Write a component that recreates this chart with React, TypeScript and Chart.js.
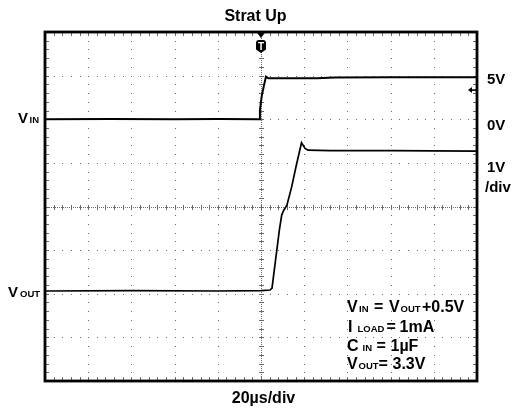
import { useEffect, useRef } from 'react';
import { Chart, registerables } from 'chart.js';

Chart.register(...registerables);

// Time base: 20 µs/div, trigger at t = 0 (screen centre)
const X_MIN = -100;
const X_MAX = 100;
const timeDivs = [-100, -80, -60, -40, -20, 0, 20, 40, 60, 80, 100];

// VOUT channel: 1 V/div
const VOUT_MIN = -2;
const VOUT_MAX = 6;
const voltDivs = [-2, -1, 0, 1, 2, 3, 4, 5, 6];

// VIN channel: 5 V/div
const VIN_MIN = -30;
const VIN_MAX = 10;

// VIN trace (µs, V)
const vinTime = [-100, -70, -40, -20, -0.9, -0.5, 0.3, 1.3, 2.3, 3.4, 10, 26, 34, 60, 100];
const vinVolts = [0, 0.02, 0, 0.02, 0, 1.0, 2.6, 3.8, 4.88, 4.7, 4.69, 4.7, 4.79, 4.81, 4.81];

// VOUT trace (µs, V)
const voutTime = [-100, -60, -20, 0, 4.2, 5.1, 6.5, 8.5, 9.6, 10.6, 12.0, 14.2, 16.2, 18.75, 20.4, 21.8, 32, 60, 100];
const voutVolts = [0.063, 0.07, 0.063, 0.07, 0.086, 0.13, 0.68, 1.46, 1.81, 1.92, 2.03, 2.45, 2.91, 3.46, 3.33, 3.29, 3.28, 3.28, 3.27];

const titleText = 'Strat Up';
const timeLabel = '20µs/div';

const FONT = '"Liberation Sans", Arial, Helvetica, sans-serif';

type Piece = [string, number, number]; // text, x, fontSize

function drawPieces(ctx: CanvasRenderingContext2D, baseline: number, pieces: Piece[]) {
  for (const [t, x, s] of pieces) {
    ctx.font = `bold ${s}px ${FONT}`;
    ctx.fillText(t, x, baseline);
  }
}

const scopePlugin = {
  id: 'scope',
  beforeDatasetsDraw(chart: any) {
    const { ctx, chartArea: a } = chart;
    const xs = chart.scales.x;
    const ys = chart.scales.yOut;
    ctx.save();
    ctx.fillStyle = '#6a6a6a';
    const nx = Math.round((X_MAX - X_MIN) / 4);
    const ny = Math.round((VOUT_MAX - VOUT_MIN) / 0.2);
    // dotted graticule lines
    for (const t of timeDivs) {
      const x = Math.round(xs.getPixelForValue(t));
      for (let k = 0; k <= ny; k++) {
        const y = Math.round(ys.getPixelForValue(VOUT_MIN + k * 0.2));
        ctx.fillRect(x, y, 1, 1);
      }
    }
    for (const v of voltDivs) {
      const y = Math.round(ys.getPixelForValue(v));
      for (let k = 0; k <= nx; k++) {
        const x = Math.round(xs.getPixelForValue(X_MIN + k * 4));
        ctx.fillRect(x, y, 1, 1);
      }
    }
    // centre lines
    const cx = Math.round(xs.getPixelForValue(0));
    const cy = Math.round(ys.getPixelForValue((VOUT_MIN + VOUT_MAX) / 2));
    for (let x = a.left; x < a.right; x += 2) ctx.fillRect(Math.round(x), cy, 1, 1);
    for (let y = a.top; y < a.bottom; y += 2) ctx.fillRect(cx, Math.round(y), 1, 1);
    for (let k = 0; k <= nx; k++) {
      const x = Math.round(xs.getPixelForValue(X_MIN + k * 4));
      ctx.fillRect(x, cy - 2, 1, 5);
      ctx.fillRect(x, Math.round(a.top), 1, 4);
      ctx.fillRect(x, Math.round(a.bottom) - 4, 1, 4);
    }
    for (let k = 0; k <= ny; k++) {
      const y = Math.round(ys.getPixelForValue(VOUT_MIN + k * 0.2));
      ctx.fillRect(cx - 2, y, 5, 1);
      ctx.fillRect(Math.round(a.left), y, 4, 1);
      ctx.fillRect(Math.round(a.right) - 4, y, 4, 1);
    }
    ctx.restore();
  },
  afterDraw(chart: any) {
    const { ctx, chartArea: a } = chart;
    const xs = chart.scales.x;
    const cx = xs.getPixelForValue(0);
    ctx.save();
    // frame
    ctx.strokeStyle = '#000';
    ctx.lineWidth = 2.8;
    ctx.strokeRect(a.left, a.top, a.right - a.left, a.bottom - a.top);
    // trigger position marker
    ctx.fillStyle = '#000';
    ctx.beginPath();
    ctx.moveTo(cx - 4.5, a.top);
    ctx.lineTo(cx + 4.5, a.top);
    ctx.lineTo(cx, a.top + 6);
    ctx.closePath();
    ctx.fill();
    // T badge
    const bt = a.top + 8;
    ctx.beginPath();
    ctx.moveTo(cx - 5, bt + 3);
    ctx.quadraticCurveTo(cx - 5, bt, cx - 2, bt);
    ctx.lineTo(cx + 2, bt);
    ctx.quadraticCurveTo(cx + 5, bt, cx + 5, bt + 3);
    ctx.lineTo(cx + 5, bt + 9.5);
    ctx.lineTo(cx, bt + 13);
    ctx.lineTo(cx - 5, bt + 9.5);
    ctx.closePath();
    ctx.fill();
    ctx.fillStyle = '#fff';
    ctx.font = `bold 10px ${FONT}`;
    ctx.textAlign = 'center';
    ctx.fillText('T', cx, bt + 10);
    // trigger level arrow
    ctx.fillStyle = '#000';
    ctx.beginPath();
    ctx.moveTo(468, 90);
    ctx.lineTo(472, 87);
    ctx.lineTo(472, 93);
    ctx.closePath();
    ctx.fill();
    ctx.fillRect(471, 89.3, 5, 1.6);

    // texts
    ctx.fillStyle = '#000';
    ctx.textAlign = 'center';
    ctx.font = `bold 16px ${FONT}`;
    ctx.fillText(titleText, 255.5, 20.5);
    ctx.fillText(timeLabel, 263.5, 402.5);

    ctx.textAlign = 'left';
    // right side
    drawPieces(ctx, 84, [['5V', 487, 15]]);
    drawPieces(ctx, 130, [['0V', 487, 15]]);
    drawPieces(ctx, 172, [['1V', 487, 15]]);
    drawPieces(ctx, 192, [['/div', 485, 15]]);
    // left side
    drawPieces(ctx, 122.5, [['V', 18, 15], ['IN', 29.5, 9.5]]);
    drawPieces(ctx, 296.5, [['V', 8, 15], ['OUT', 20, 9.5]]);
    // conditions
    drawPieces(ctx, 312, [['V', 347, 16], ['IN', 359, 9.5], ['=', 374, 16], ['V', 389, 16], ['OUT', 400.5, 9.5], ['+0.5V', 422, 16]]);
    drawPieces(ctx, 331.5, [['I', 348, 16], ['LOAD', 357.5, 9.5], ['=', 386.5, 16], ['1mA', 399.5, 16]]);
    drawPieces(ctx, 351, [['C', 347, 16], ['IN', 362.5, 9.5], ['=', 376.5, 16], ['1µF', 390.5, 16]]);
    drawPieces(ctx, 369, [['V', 347, 16], ['OUT', 358.5, 9.5], ['=', 378.5, 16], ['3.3V', 392.5, 16]]);
    ctx.restore();
  },
};

export default function App() {
  const ref = useRef<HTMLCanvasElement | null>(null);
  useEffect(() => {
    if (!ref.current) return;
    const chart = new Chart(ref.current, {
      type: 'line',
      data: {
        datasets: [
          {
            label: 'VIN',
            data: vinTime.map((t, i) => ({ x: t, y: vinVolts[i] })),
            yAxisID: 'yIn',
            borderColor: '#000',
            borderWidth: 2,
            pointRadius: 0,
            tension: 0,
          },
          {
            label: 'VOUT',
            data: voutTime.map((t, i) => ({ x: t, y: voutVolts[i] })),
            yAxisID: 'yOut',
            borderColor: '#000',
            borderWidth: 1.7,
            pointRadius: 0,
            tension: 0,
          },
        ],
      },
      options: {
        responsive: false,
        animation: false,
        events: [],
        layout: { padding: { left: 45, right: 38, top: 32, bottom: 28 } },
        plugins: { legend: { display: false }, title: { display: false }, tooltip: { enabled: false } },
        scales: {
          x: { type: 'linear', min: X_MIN, max: X_MAX, display: false },
          yIn: { type: 'linear', min: VIN_MIN, max: VIN_MAX, display: false },
          yOut: { type: 'linear', min: VOUT_MIN, max: VOUT_MAX, display: false },
        },
      },
      plugins: [scopePlugin],
    });
    return () => chart.destroy();
  }, []);
  return (
    <div style={{ position: 'absolute', left: 0, top: 0, width: 515, height: 409, background: '#fff' }}>
      <canvas ref={ref} width={515} height={409} style={{ display: 'block' }} />
    </div>
  );
}
